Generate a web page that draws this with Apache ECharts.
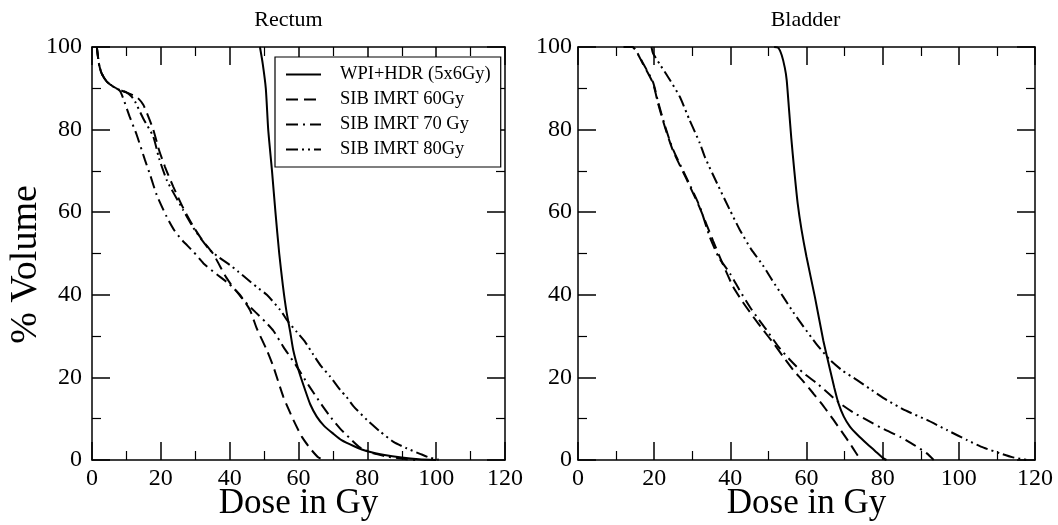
<!DOCTYPE html>
<html>
<head>
<meta charset="utf-8">
<title>Rectum and Bladder DVH</title>
<script src="https://cdn.jsdelivr.net/npm/echarts@6/dist/echarts.min.js"></script>
<style>
  html, body { margin: 0; padding: 0; background: #ffffff; }
  #chart { width: 1058px; height: 525px; }
</style>
</head>
<body>
<div id="chart"></div>
<script>
// Dose-volume histograms: [dose in Gy, % volume]
const seriesNames = ['WPI+HDR (5x6Gy)', 'SIB IMRT 60Gy', 'SIB IMRT 70 Gy', 'SIB IMRT 80Gy'];
const panelTitles = ['Rectum', 'Bladder'];
const doseTicks = [0, 20, 40, 60, 80, 100, 120];
const volumeTicks = [0, 20, 40, 60, 80, 100];

const rectumWpi = [[48.8,100],[49.6,96],[50.5,90],[51.2,80],[52.3,70],[53.3,60],[54.4,50],[55.5,42],[56.5,36],[57.6,31],[58.5,26.5],[60,21.8],[61.9,17],[63.4,13.5],[65.3,10.5],[67.5,8.2],[70.2,6.3],[72.5,4.8],[76,3.4],[80,2.1],[85,1.2],[90,0.6],[95,0.2],[100,0]];
const rectum60 = [[1.4,100],[2,96],[2.8,93.6],[4.3,91.6],[6,90.5],[8.1,89.6],[10,89],[12,88.3],[13.5,87.5],[14.9,86],[16.2,83.5],[17.8,80],[19.5,75],[21.2,71],[23.6,66.2],[26.5,61],[29.4,56.6],[32,53.3],[35.3,49.8],[38.7,44.6],[41,41.8],[43,40],[45.9,36.3],[47.9,31.8],[50.8,26.6],[52.7,22.6],[55.6,15.3],[58.5,9.7],[61,5.6],[63.4,2.8],[65.8,0.6],[68,0]];
const rectum70 = [[1.4,100],[2,96],[2.8,93.6],[4.3,91.6],[6,90.5],[8.1,89.4],[9.1,87.5],[11,83],[13,78.7],[15.4,72.6],[16.9,69],[18.8,64.2],[21.7,58.9],[24,55.5],[26.1,53.3],[29.5,50.4],[32.4,47.6],[36.2,45],[39.6,42.8],[41.6,41.2],[44.5,38.3],[47.5,35.8],[50.3,33.5],[52.7,31.3],[55.6,27.4],[59.5,22.6],[63,18],[66.8,13.3],[69.5,10.2],[72.1,7.6],[75,5.2],[77.9,3],[81.8,1.6],[86,0.8],[91.5,0.2],[94,0]];
const rectum80 = [[1.4,100],[2,96],[2.8,93.6],[4.3,91.6],[6,90.5],[8.1,89.6],[10,89],[11.5,88],[12.5,86.8],[15,82.5],[17.8,78.3],[19.5,73],[21.7,67.8],[23.6,64.8],[26.5,60.5],[29.4,56.3],[31.9,53.3],[34.3,50.8],[37,49],[40.1,47.2],[42.5,45.6],[45.4,43.6],[48,41.8],[50.8,40],[54.7,36.3],[57,33.5],[59.5,31],[62,28.5],[64.3,25.5],[66.5,22.8],[69.2,20.2],[72.1,17],[74,15.2],[76,13],[79.9,9.7],[83.7,6.9],[87.6,4.4],[91.5,2.8],[95.3,1.5],[98,0.6],[100.5,0.1],[102,0]];

const bladderWpi = [[51.5,100],[52.6,99.8],[53.5,98],[54.3,95],[54.8,92],[55.4,85],[56,78],[56.8,70],[57.7,62],[58.7,55.7],[60,49.2],[62.2,39.5],[64.4,29],[66.2,21.8],[67.3,17.5],[68.4,13.7],[69.8,10.5],[71.4,8.1],[73.5,6],[75.8,4],[78,2.2],[80.2,0.4],[81,0]];
const bladder60 = [[12,100],[14.3,100],[15.3,99],[17,96],[19.7,91.2],[21,86.4],[22.8,80.7],[24.9,75],[28.5,68],[32,61],[35.5,53],[38,47.5],[40.7,42],[43.3,38.2],[46,34.7],[48.6,31.5],[51.3,28.3],[53.9,25],[56.5,21.8],[59.2,19],[61.8,16.1],[64.5,13],[67.1,9.7],[69.3,6.8],[71.4,4],[72.8,2],[74.1,0.2],[74.5,0]];
const bladder70 = [[12,100],[14.3,100],[15.3,99],[17,96.2],[19.7,91.5],[21,86.8],[22.8,81],[24.9,75.3],[28.5,68.3],[32,61.3],[34.6,54],[37,49],[39.9,45.2],[42.5,41],[45.1,37.1],[47.3,34.2],[49.5,31.5],[52.5,27.6],[55.7,24.2],[59,21.2],[62.7,18.6],[65.8,16.1],[68.8,13.7],[72.3,11.5],[75.8,9.7],[80,7.6],[84.6,5.6],[88.3,3.6],[91.6,1.6],[93.4,0]];
const bladder80 = [[19.3,100],[19.7,98.5],[21.5,95.8],[23.6,92.8],[26.7,88],[29.3,82.3],[32,76.7],[33.3,73.4],[36.5,67],[39.9,60.5],[42.5,55.7],[45.5,51],[48.5,47.2],[51,43.5],[53.9,39.5],[56.5,35.8],[59.2,32.3],[62.5,28.2],[66.2,24.2],[69.5,21.6],[73.2,19.4],[77,17],[81.1,14.5],[86,12],[91.6,9.7],[97,7.2],[102.2,4.8],[106.5,3],[110.9,1.6],[114,0.7],[116.6,0.2],[118,0]];

const SERIF = "'Liberation Serif', 'DejaVu Serif', serif";
const INK = '#000000';

// Solid, dashed, dash-dot, dash-dot-dot
const dashPatterns = ['solid', [12, 6], [12, 5, 2, 5], [12, 4, 2, 4, 2, 4]];

const panels = [
  { left: 92, width: 413, labelMargin: 10, titleShift: -15, data: [rectumWpi, rectum60, rectum70, rectum80] },
  { left: 578, width: 457, labelMargin: 6, titleShift: -6, data: [bladderWpi, bladder60, bladder70, bladder80] }
];
const TOP = 47, HEIGHT = 413;

const grids = [], xAxes = [], yAxes = [], series = [], titles = [];

function tickStyle(showLabel) {
  return {
    axisLine: { show: true, onZero: false, lineStyle: { color: INK, width: 1.5 } },
    axisTick: { show: true, inside: true, length: 18, lineStyle: { color: INK, width: 1.5 } },
    minorTick: { show: true, splitNumber: 2, length: 9, lineStyle: { color: INK, width: 1.2 } },
    splitLine: { show: false },
    axisLabel: { show: showLabel, color: INK, fontFamily: SERIF, fontSize: 24 }
  };
}

panels.forEach((p, gi) => {
  grids.push({
    left: p.left, top: TOP, width: p.width, height: HEIGHT,
    containLabel: false, outerBoundsMode: 'none', show: false
  });
  titles.push({
    text: panelTitles[gi],
    left: p.left + p.width / 2 + p.titleShift,
    top: 4,
    textAlign: 'center',
    textStyle: { fontFamily: SERIF, fontSize: 22, fontWeight: 'normal', color: INK }
  });
  const dMin = doseTicks[0], dMax = doseTicks[doseTicks.length - 1];
  const vMin = volumeTicks[0], vMax = volumeTicks[volumeTicks.length - 1];
  const bottom = Object.assign(tickStyle(true), {
    type: 'value', gridIndex: gi, position: 'bottom', min: dMin, max: dMax, interval: 20,
    name: 'Dose in Gy', nameLocation: 'middle', nameGap: 26, nameMoveOverlap: false,
    nameTextStyle: { fontFamily: SERIF, fontSize: 35, color: INK, verticalAlign: 'top' }
  });
  bottom.axisLabel.margin = 7;
  const top = Object.assign(tickStyle(false), {
    type: 'value', gridIndex: gi, position: 'top', min: dMin, max: dMax, interval: 20
  });
  const leftAx = Object.assign(tickStyle(true), {
    type: 'value', gridIndex: gi, position: 'left', min: vMin, max: vMax, interval: 20
  });
  leftAx.axisLabel.margin = p.labelMargin;
  if (gi === 0) {
    leftAx.name = '% Volume';
    leftAx.nameLocation = 'middle';
    leftAx.nameGap = 47;
    leftAx.nameMoveOverlap = false;
    leftAx.nameTextStyle = { fontFamily: SERIF, fontSize: 38, color: INK, padding: [0, 22, 0, 0] };
  }
  const rightAx = Object.assign(tickStyle(false), {
    type: 'value', gridIndex: gi, position: 'right', min: vMin, max: vMax, interval: 20
  });
  const xi = xAxes.length, yi = yAxes.length;
  xAxes.push(bottom, top);
  yAxes.push(leftAx, rightAx);
  p.data.forEach((pts, si) => {
    series.push({
      name: seriesNames[si],
      type: 'line',
      xAxisIndex: xi,
      yAxisIndex: yi,
      data: pts,
      symbol: 'none',
      smooth: 0.2,
      clip: true,
      lineStyle: { color: INK, width: 2, type: dashPatterns[si], cap: 'butt' },
      itemStyle: { color: INK },
      emphasis: { disabled: true }
    });
  });
});

const chart = echarts.init(document.getElementById('chart'), null, { renderer: 'canvas' });
chart.setOption({
  backgroundColor: '#ffffff',
  animation: false,
  title: titles,
  grid: grids,
  xAxis: xAxes,
  yAxis: yAxes,
  legend: {
    data: seriesNames,
    orient: 'vertical',
    left: 275,
    top: 57,
    padding: [8, 10, 8, 10],
    itemGap: 6,
    itemWidth: 35,
    itemHeight: 17,
    backgroundColor: '#ffffff',
    borderColor: INK,
    borderWidth: 1.2,
    borderRadius: 0,
    selectedMode: false,
    itemStyle: { opacity: 0 },
    lineStyle: { width: 2 },
    textStyle: { fontFamily: SERIF, fontSize: 18.5, color: INK, padding: [0, 0, 0, 14] }
  },
  series: series
});
</script>
</body>
</html>
